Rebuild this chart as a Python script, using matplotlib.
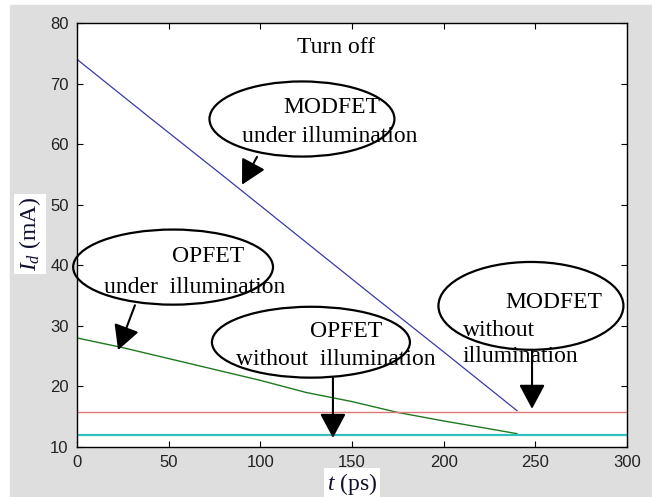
import matplotlib
matplotlib.use("Agg")
import matplotlib.pyplot as plt
from matplotlib.patches import Ellipse, Rectangle

# --- DATA ---
t_modfet_ill = [0, 40, 80, 120, 160, 200, 240]
id_modfet_ill = [74.0, 64.3, 54.7, 45.0, 35.3, 25.7, 16.0]

t_opfet_ill = [0, 25, 50, 75, 100, 125, 150, 175, 200, 225, 240]
id_opfet_ill = [28.0, 26.4, 24.6, 22.8, 21.0, 19.0, 17.5, 15.7, 14.3, 13.0, 12.2]

t_dark = [0, 300]
id_modfet_dark = [15.7, 15.7]
id_opfet_dark = [11.9, 11.9]

x_ticks = [0, 50, 100, 150, 200, 250, 300]
y_ticks = [10, 20, 30, 40, 50, 60, 70, 80]

# --- STYLE ---
plt.rcParams['mathtext.fontset'] = 'custom'
plt.rcParams['mathtext.rm'] = 'Liberation Serif'
plt.rcParams['mathtext.it'] = 'Liberation Serif:italic'
SERIF = 'Liberation Serif'
FS = 17

fig = plt.figure(figsize=(6.52, 4.97), dpi=100, facecolor='white')
fig.patches.append(Rectangle((10 / 652, 0), 1, 1 - 5 / 497, transform=fig.transFigure,
                             color='#dedede', zorder=-10))
ax = fig.add_axes([77 / 652, 50 / 497, 550 / 652, 424 / 497])
ax.set_facecolor('white')

ax.plot(t_modfet_ill, id_modfet_ill, color='#3a3aa8', lw=0.9)
ax.plot(t_opfet_ill, id_opfet_ill, color='#1f7a1f', lw=1.0)
ax.plot(t_dark, id_modfet_dark, color='#e07878', lw=1.0)
ax.plot(t_dark, id_opfet_dark, color='#30c0c0', lw=1.6)

ax.set_xlim(0, 300)
ax.set_ylim(10, 80)
ax.set_xticks(x_ticks)
ax.set_yticks(y_ticks)
ax.tick_params(direction='in', top=True, right=True, length=4, width=0.8,
               labelsize=12, labelcolor='#222222', pad=6)
for lab in ax.get_xticklabels() + ax.get_yticklabels():
    lab.set_fontfamily('Liberation Sans')
for s in ax.spines.values():
    s.set_linewidth(1.0)

# axis labels on white boxes
fig.text(30 / 652, 1 - 234 / 497, r'$I_d$ (mA)', rotation=90, ha='center', va='center',
         fontsize=FS, family=SERIF, color='#101030',
         bbox=dict(facecolor='white', edgecolor='none', pad=2))
fig.text(352 / 652, 1 - 484 / 497, r'$t$ (ps)', ha='center', va='center',
         fontsize=FS, family=SERIF, color='#101030',
         bbox=dict(facecolor='white', edgecolor='none', pad=2))

# annotations
ax.text(141.5, 75.9, 'Turn off', ha='center', va='center', fontsize=FS, family=SERIF)

ells = [(122.7, 64.15, 100.9, 12.4), (52.4, 39.7, 109, 12.4),
        (127.6, 27.3, 108, 11.7), (247.6, 33.3, 100.9, 14.5)]
for cx, cy, w, h in ells:
    ax.add_patch(Ellipse((cx, cy), w, h, fill=False, edgecolor='black', lw=1.6, clip_on=False))

ax.text(139.1, 66.0, 'MODFET', ha='center', va='center', fontsize=FS, family=SERIF)
ax.text(137.7, 61.2, 'under illumination', ha='center', va='center', fontsize=FS, family=SERIF)
ax.text(71.5, 41.4, 'OPFET', ha='center', va='center', fontsize=FS, family=SERIF)
ax.text(64.4, 36.4, 'under  illumination', ha='center', va='center', fontsize=FS, family=SERIF)
ax.text(146.7, 29.0, 'OPFET', ha='center', va='center', fontsize=FS, family=SERIF)
ax.text(141.0, 24.4, 'without  illumination', ha='center', va='center', fontsize=FS, family=SERIF)
ax.text(260.2, 33.9, 'MODFET', ha='center', va='center', fontsize=FS, family=SERIF)
ax.text(210.5, 29.3, 'without', ha='left', va='center', fontsize=FS, family=SERIF)
ax.text(210.5, 24.9, 'illumination', ha='left', va='center', fontsize=FS, family=SERIF)

arrows = [((98.2, 57.9), (90.0, 53.3)), ((31.6, 33.4), (22.4, 26.0)),
          ((139.6, 21.4), (139.6, 11.5)), ((248.2, 26.0), (248.2, 16.3))]
for tail, tip in arrows:
    ax.annotate('', xy=tip, xytext=tail,
                arrowprops=dict(arrowstyle='-|>,head_length=0.75,head_width=0.4',
                                mutation_scale=20, color='black', lw=1.5,
                                shrinkA=0, shrinkB=0))

fig.savefig('out.png', dpi=100, facecolor=fig.get_facecolor())
